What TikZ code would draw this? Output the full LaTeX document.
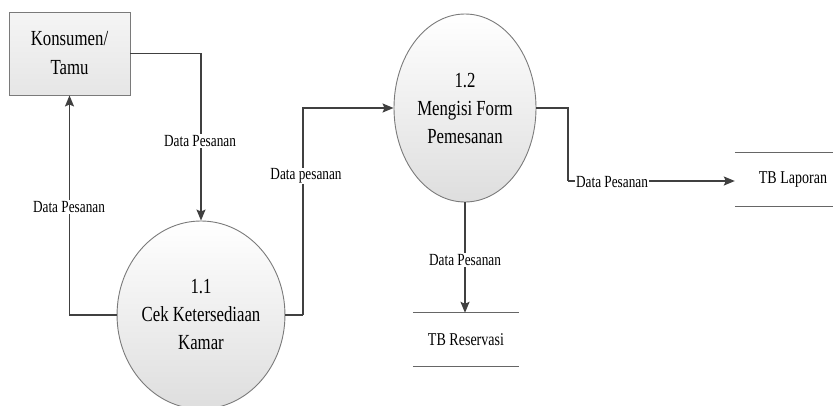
\documentclass[tikz,border=0pt]{standalone}
\usepackage{fontspec}
\setmainfont{Liberation Serif}
\usetikzlibrary{shapes.geometric,arrows.meta}
% horizontally condensed text
\newcommand{\nar}[1]{\scalebox{0.78}[1]{#1}}
\tikzset{
  proc/.style={ellipse, draw=black!52, line width=0.9pt, top color=white, bottom color=black!13,
    minimum width=142pt, minimum height=188pt, inner sep=0pt, align=center},
  ent/.style={rectangle, draw=black!52, line width=0.9pt, top color=black!4, bottom color=black!10,
    minimum width=121pt, minimum height=83pt, inner sep=0pt, align=center},
  store/.style={rectangle, inner sep=0pt},
  storeline/.style={draw=black!60, line width=1pt},
  flow/.style={draw=black!75, line width=1.6pt, -{Stealth[length=11pt,width=9pt,inset=2pt]}},
  link/.style={draw=black!75, line width=1.6pt},
  lbl/.style={fill=white, inner sep=1pt}
}
\begin{document}
\begin{tikzpicture}[x=1pt,y=-1pt]
  \useasboundingbox (0,0) rectangle (833,405);

  % external entity and processes
  \node[ent, font=\fontsize{21.5}{29}\selectfont]  (tamu) at (69.5,53.5) {\nar{Konsumen/}\\\nar{Tamu}};
  \node[proc, font=\fontsize{21.5}{28}\selectfont] (p11)  at (201,315) {\nar{1.1}\\\nar{Cek Ketersediaan}\\\nar{Kamar}};
  \node[proc, font=\fontsize{21.5}{28}\selectfont] (p12)  at (465,108) {\nar{1.2}\\\nar{Mengisi Form}\\\nar{Pemesanan}};

  % data stores
  \node[store, font=\fontsize{18}{20}\selectfont, minimum width=106pt, minimum height=53pt] (res) at (466,339.5) {\nar{TB Reservasi}};
  \node[store, font=\fontsize{18}{20}\selectfont, minimum width=116pt, minimum height=53pt] (lap) at (793,179.5) {\nar{TB Laporan}};
  \draw[storeline] (res.north west) -- (res.north east) (res.south west) -- (res.south east);
  \draw[storeline] (lap.north west) -- (lap.north east) (lap.south west) -- (lap.south east);

  % bend points
  \coordinate (k1) at (303,315);
  \coordinate (k2) at (568,108);
  \coordinate (k3) at (568,181);

  % data flows
  \draw[flow] (tamu.east) -| (p11.north);
  \draw[flow] (p11.west) -| (tamu.south);
  \draw[link] (p11.east) -- (k1);
  \draw[flow] (k1) |- (p12.west);
  \draw[link] (p12.east) -- (k2) -- (k3);
  \draw[flow] (k3) -- (k3 -| lap.west);
  \draw[flow] (p12.south) -- (p12.south |- res.north);

  % flow labels
  \node[lbl, font=\fontsize{17}{20}\selectfont] (l1) at (200,141) {\nar{Data Pesanan}};
  \node[lbl, font=\fontsize{17}{20}\selectfont] (l2) at (69,207) {\nar{Data Pesanan}};
  \node[lbl, font=\fontsize{17}{20}\selectfont] (l3) at (306,176) {\nar{Data pesanan}};
  \node[lbl, font=\fontsize{17}{20}\selectfont] (l4) at (612,182) {\nar{Data Pesanan}};
  \node[lbl, font=\fontsize{17}{20}\selectfont] (l5) at (465,260) {\nar{Data Pesanan}};
\end{tikzpicture}
\end{document}
